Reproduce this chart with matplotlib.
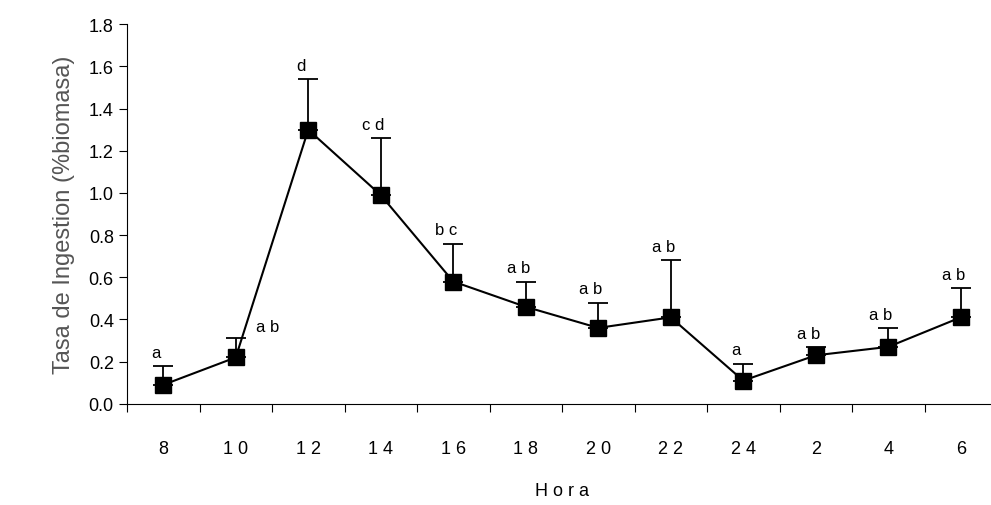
import matplotlib
matplotlib.use("Agg")
import matplotlib.pyplot as plt
import numpy as np

plt.rcParams['font.family'] = ['Liberation Sans', 'DejaVu Sans']

horas = ["8", "10", "12", "14", "16", "18", "20", "22", "24", "2", "4", "6"]
tasa = [0.09, 0.22, 1.30, 0.99, 0.58, 0.46, 0.36, 0.41, 0.11, 0.23, 0.27, 0.41]
error_sup = [0.18, 0.31, 1.54, 1.26, 0.76, 0.58, 0.48, 0.68, 0.19, 0.27, 0.36, 0.55]
letras = ["a", "a b", "d", "c d", "b c", "a b", "a b", "a b", "a", "a b", "a b", "a b"]

fig = plt.figure(figsize=(9.91, 5.06), dpi=100)
ax = fig.add_axes([127/991, 0.2, 870/991, 0.75])
x = np.arange(len(horas))
err = np.array(error_sup) - np.array(tasa)
ax.errorbar(x, tasa, yerr=[np.zeros_like(err), err], fmt='none', ecolor='black',
            elinewidth=1.3, capsize=7, capthick=1.3, zorder=2)
ax.plot(x, tasa, color='black', lw=1.5, marker='s', ms=11, zorder=3)
for i, (t, e, l) in enumerate(zip(tasa, error_sup, letras)):
    if i == 1:
        ax.text(i + 0.28, 0.33, l, fontsize=12, ha='left', va='bottom')
    else:
        ax.text(i - 0.1, e + 0.03, l, fontsize=12, ha='center', va='bottom')

ax.set_xlim(-0.5, 11.5)
ax.set_ylim(0, 1.8)
ax.set_yticks(np.arange(0, 1.81, 0.2))
ax.set_yticklabels([f"{v:.1f}" for v in np.arange(0, 1.81, 0.2)], fontsize=13)
ax.set_xticks(np.arange(-0.5, 11.6, 1))
ax.set_xticklabels([])
ax.set_xticks(x, minor=True)
ax.set_xticklabels([" ".join(h) for h in horas], minor=True, fontsize=13)
ax.tick_params(axis='x', which='minor', length=0, pad=26)
ax.tick_params(axis='x', which='major', length=6, direction='out')
ax.tick_params(axis='y', length=6, direction='out')
for s in ['top', 'right']:
    ax.spines[s].set_visible(False)
ax.set_ylabel("Tasa de Ingestion (%biomasa)", fontsize=17, color='#555555', labelpad=10)
ax.set_xlabel("H o r a", fontsize=13, labelpad=18)
fig.savefig("out.png", dpi=100)
